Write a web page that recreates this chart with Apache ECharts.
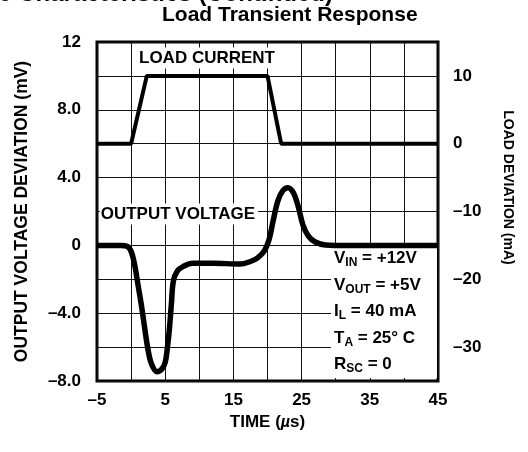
<!DOCTYPE html>
<html>
<head>
<meta charset="utf-8">
<script src="https://cdn.jsdelivr.net/npm/echarts@6/dist/echarts.min.js"></script>
<style>
  html, body { margin: 0; padding: 0; background: #fff; }
  #chart { width: 528px; height: 452px; }
</style>
</head>
<body>
<div id="chart"></div>
<script>
const timeTicks = [-5, 5, 15, 25, 35, 45]
const timeTickLabels = ["\u20135", "5", "15", "25", "35", "45"]
const voltTicks = [-8, -4, 0, 4, 8, 12]
const voltTickLabels = ["\u20138.0", "\u20134.0", "0", "4.0", "8.0", "12"]
const currentTicks = [-30, -20, -10, 0, 10]
const currentTickLabels = ["\u201330", "\u201320", "\u201310", "0", "10"]

// load current step (mA, right axis)
const loadTime = [-5, 0, 2.3, 20, 22, 45]
const loadCurrent = [0, 0, 10, 10, 0, 0]

// output voltage deviation (mV, left axis)
const voltTime = [-5, -1.5, -0.6, 0, 0.5, 1.0, 1.5, 2.0, 2.5, 3.0, 3.8, 4.5, 5.0, 5.3, 5.6, 5.9, 6.2, 6.8, 7.6, 9,
  12, 16, 17.5, 18.5, 19.5, 20.2, 20.8, 21.5, 22.2, 23, 23.8, 24.5, 25.2, 26, 27, 28.5, 30, 45]
const voltDev = [0, 0, -0.05, -0.35, -1.1, -2.3, -3.5, -4.9, -6.2, -7.0, -7.45, -7.3, -6.9, -6.1, -5.0, -3.5, -2.1, -1.5, -1.25, -1.05,
  -1.05, -1.1, -0.95, -0.75, -0.35, 0.3, 1.4, 2.6, 3.2, 3.4, 3.1, 2.3, 1.2, 0.55, 0.2, 0.02, 0, 0]

const conditions = [
  "{m|V}{s|IN}{m| = +12V}",
  "{m|V}{s|OUT}{m| = +5V}",
  "{m|I}{s|L}{m| = 40 mA}",
  "{m|T}{s|A}{m| = 25\u00b0 C}",
  "{m|R}{s|SC}{m| = 0}"
]

const FONT = "'Liberation Sans', Arial, sans-serif"

const pick = (ticks, labels) => (v) => {
  const i = ticks.indexOf(v)
  return i < 0 ? "" : labels[i]
}

const labelStyle = { color: "#000", fontFamily: FONT, fontWeight: "bold", fontSize: 17 }

const chart = echarts.init(document.getElementById("chart"), null, { renderer: "canvas" })

chart.setOption({
  animation: false,
  title: {
    text: "Load Transient Response",
    left: 162,
    top: 5,
    padding: 0,
    textStyle: { color: "#000", fontFamily: FONT, fontWeight: "bold", fontSize: 21 }
  },
  grid: {
    left: 97,
    right: 90,
    top: 42,
    bottom: 71,
    show: true,
    borderColor: "#000",
    borderWidth: 3,
    containLabel: false,
    outerBoundsMode: "none"
  },
  xAxis: {
    type: "value",
    min: -5,
    max: 45,
    interval: 5,
    axisLine: { show: false },
    axisTick: { show: false },
    splitLine: { lineStyle: { color: "#111", width: 1 } },
    axisLabel: { ...labelStyle, margin: 11, formatter: pick(timeTicks, timeTickLabels) },
    name: "TIME ({i|\u00b5}s)",
    nameLocation: "middle",
    nameGap: 28,
    nameTextStyle: {
      color: "#000", fontFamily: FONT, fontWeight: "bold", fontSize: 17,
      rich: { i: { color: "#000", fontFamily: FONT, fontStyle: "italic", fontSize: 16 } }
    }
  },
  yAxis: [
    {
      type: "value",
      min: -8,
      max: 12,
      interval: 2,
      axisLine: { show: false },
      axisTick: { show: false },
      splitLine: { lineStyle: { color: "#111", width: 1 } },
      axisLabel: { ...labelStyle, margin: 16, formatter: pick(voltTicks, voltTickLabels) },
      name: "OUTPUT VOLTAGE DEVIATION (mV)",
      nameLocation: "middle",
      nameGap: 66,
      nameTextStyle: { color: "#000", fontFamily: FONT, fontWeight: "bold", fontSize: 17.5 }
    },
    {
      type: "value",
      position: "right",
      min: -35,
      max: 15,
      interval: 5,
      axisLine: { show: false },
      axisTick: { show: false },
      splitLine: { show: false },
      axisLabel: { ...labelStyle, margin: 15, formatter: pick(currentTicks, currentTickLabels) },
      name: "LOAD DEVIATION (mA)",
      nameLocation: "middle",
      nameRotate: -90,
      nameGap: 63,
      nameTextStyle: { color: "#000", fontFamily: FONT, fontWeight: "bold", fontSize: 14, padding: [0, 48, 0, 0] }
    }
  ],
  series: [
    {
      type: "line",
      yAxisIndex: 0,
      data: voltTime.map((t, i) => [t, voltDev[i]]),
      showSymbol: false,
      smooth: 0.35,
      lineStyle: { color: "#000", width: 5.5 },
      z: 3
    },
    {
      type: "line",
      yAxisIndex: 1,
      data: loadTime.map((t, i) => [t, loadCurrent[i]]),
      showSymbol: false,
      lineStyle: { color: "#000", width: 4 },
      z: 3
    }
  ]
})

// annotations anchored to the data coordinates of the voltage axis
const px = (t, v) => chart.convertToPixel({ xAxisIndex: 0, yAxisIndex: 0 }, [t, v])
const loadLabelAt = px(0.72, 11.06)
const outLabelAt = px(-4.6, 1.85)
const boxTopLeft = px(29.3, -0.1)
const boxBottomRight = px(44.85, -7.82)
const condAt = px(29.75, 0)

const annoFont = `bold 17px ${FONT}`

chart.setOption({
  graphic: [
    {
      type: "text",
      x: 333,
      y: 6.5,
      silent: true,
      style: {
        text: "Typical Performance Characteristics (Continued)",
        font: `bold 24px ${FONT}`,
        fill: "#000",
        align: "right",
        verticalAlign: "bottom"
      }
    },
    {
      type: "text",
      x: loadLabelAt[0],
      y: loadLabelAt[1],
      z: 1,
      silent: true,
      style: {
        text: "LOAD CURRENT",
        font: annoFont,
        fill: "#000",
        verticalAlign: "middle",
        backgroundColor: "#fff",
        padding: [2, 3, 2, 3]
      }
    },
    {
      type: "text",
      x: outLabelAt[0],
      y: outLabelAt[1],
      z: 1,
      silent: true,
      style: {
        text: "OUTPUT VOLTAGE",
        font: annoFont,
        fill: "#000",
        verticalAlign: "middle",
        backgroundColor: "#fff",
        padding: [2, 3, 2, 1]
      }
    },
    {
      type: "rect",
      z: 1,
      silent: true,
      shape: {
        x: boxTopLeft[0],
        y: boxTopLeft[1],
        width: boxBottomRight[0] - boxTopLeft[0],
        height: boxBottomRight[1] - boxTopLeft[1]
      },
      style: { fill: "#fff" }
    },
    {
      type: "text",
      x: condAt[0],
      y: condAt[1],
      z: 1,
      silent: true,
      style: {
        text: conditions.join("\n"),
        fill: "#000",
        rich: {
          m: { fontFamily: FONT, fontWeight: "bold", fontSize: 17, lineHeight: 26.5, fill: "#000" },
          s: { fontFamily: FONT, fontWeight: "bold", fontSize: 12, lineHeight: 26.5, padding: [9, 0, 0, 0], fill: "#000" }
        }
      }
    }
  ]
})
</script>
</body>
</html>
